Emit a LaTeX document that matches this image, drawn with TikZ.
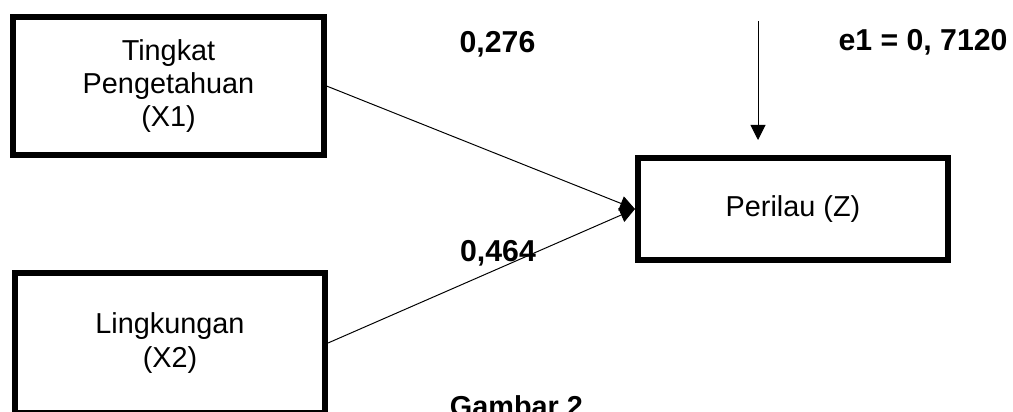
\documentclass[tikz,border=0pt]{standalone}
\usepackage{fontspec}
\setmainfont{Liberation Sans}
\usetikzlibrary{arrows.meta}
\tikzstyle{varbox} = [draw, line width=4.25pt, align=center, inner sep=0pt,
    minimum width=7.75cm, font=\fontsize{20.5}{23.6}\selectfont]
\tikzstyle{link} = [line width=0.7pt, -{Triangle[length=0.375cm, width=0.375cm]}]
\tikzstyle{coef} = [anchor=base, font=\fontsize{21.5}{25}\selectfont\bfseries]

\begin{document}
\begin{tikzpicture}[x=0.025cm, y=-0.025cm]
            \useasboundingbox (0, 0) rectangle (1013, 412);

            \node[varbox, minimum height=3.45cm] (x1) at (168.5, 86)
                {Tingkat\\Pengetahuan\\(X1)};
            \node[varbox, minimum height=3.5cm] (x2) at (170, 343)
                {Lingkungan\\(X2)};
            \node[varbox, minimum height=2.55cm] (z) at (793, 209)
                {Perilau (Z)};

            \draw[link] (x1.east) -- (z.west);
            \draw[link] (x2.east) -- (z.west);

            \coordinate (e1) at (758, 21);
            \draw[link, shorten >=0.375cm] (e1) -- (e1 |- z.north);

            \node[coef] (b1) at (497.5, 53) {0,276};
            \node[coef] (b2) at (498, 262) {0,464};
            \node[coef] (err) at (923, 51) {e1 = 0, 7120};
            \node[coef, anchor=base west, font=\fontsize{20.5}{24}\selectfont\bfseries]
                (cap) at (445, 416) {Gambar 2};
        \end{tikzpicture}
\end{document}
